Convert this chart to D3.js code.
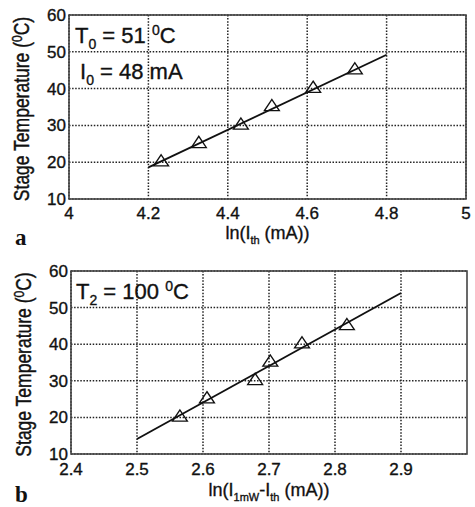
<!DOCTYPE html>
<meta charset="utf-8" />
<html>
<head>
<script src="https://d3js.org/d3.v7.min.js"></script>
<style>
  body { margin: 0; background: #fff; }
  text { font-family: "Liberation Sans", Arial, sans-serif; fill: #111; stroke: #111; stroke-width: 0.35; }
</style>
</head>
<body>
<script>
// panel a: ln(Ith) vs stage temperature
var lnIth = [4.232, 4.327, 4.433, 4.511, 4.615, 4.72];
var tempA = [20, 25, 30, 35, 40, 45];
var fitA = [[4.2, 18.6], [4.8, 49.2]];
var xTicksA = [4, 4.2, 4.4, 4.6, 4.8, 5];

// panel b: ln(I1mW - Ith) vs stage temperature
var lnSlope = [2.565, 2.606, 2.679, 2.702, 2.75, 2.818];
var tempB = [20, 25, 30, 35, 40, 45];
var fitB = [[2.5, 14.1], [2.9, 54]];
var xTicksB = [2.4, 2.5, 2.6, 2.7, 2.8, 2.9];

var yTicks = [10, 20, 30, 40, 50, 60];

var svg = d3.select('body').append('svg')
    .attr('width', 475)
    .attr('height', 507);

function drawPanel(p) {
  var x = d3.scaleLinear().domain(p.xDomain).range([p.left, p.right]);
  var y = d3.scaleLinear().domain([10, 60]).range([p.bottom, p.top]);
  var g = svg.append('g');

  // dotted grid
  g.selectAll('.gx').data(p.xTicks).enter().append('line')
      .attr('x1', function(d) { return x(d); })
      .attr('x2', function(d) { return x(d); })
      .attr('y1', p.top).attr('y2', p.bottom)
      .attr('stroke', '#222').attr('stroke-width', 1.5)
      .attr('stroke-dasharray', '1.5,1.6');
  g.selectAll('.gy').data(yTicks).enter().append('line')
      .attr('y1', function(d) { return y(d); })
      .attr('y2', function(d) { return y(d); })
      .attr('x1', p.left).attr('x2', p.right)
      .attr('stroke', '#222').attr('stroke-width', 1.5)
      .attr('stroke-dasharray', '1.5,1.6');

  // box
  g.append('rect')
      .attr('x', p.left).attr('y', p.top)
      .attr('width', p.right - p.left).attr('height', p.bottom - p.top)
      .attr('fill', 'none').attr('stroke', '#444').attr('stroke-width', 1.6);

  // tick labels
  g.selectAll('.ty').data(yTicks).enter().append('text')
      .attr('x', p.left - 3)
      .attr('y', function(d) { return y(d) + 6; })
      .attr('text-anchor', 'end')
      .style('font-size', '17px')
      .text(function(d) { return d; });
  g.selectAll('.tx').data(p.xTicks).enter().append('text')
      .attr('x', function(d) { return x(d); })
      .attr('y', p.bottom + p.tickDy)
      .attr('text-anchor', 'middle')
      .style('font-size', '17px')
      .text(function(d) { return d; });

  // fit line
  g.append('path')
      .attr('d', d3.line().x(function(d) { return x(d[0]); }).y(function(d) { return y(d[1]); })(p.fit))
      .attr('stroke', '#111').attr('stroke-width', 1.9).attr('fill', 'none');

  // triangles
  var tri = d3.symbol().type(d3.symbolTriangle).size(80);
  g.selectAll('.pt').data(p.xs).enter().append('path')
      .attr('d', tri)
      .attr('transform', function(d, i) { return 'translate(' + x(d) + ',' + y(p.ys[i]) + ') scale(1.1,0.95)'; })
      .attr('fill', 'none').attr('stroke', '#111').attr('stroke-width', 1.3);

  // y label
  var yl = g.append('text')
      .attr('transform', 'translate(' + (p.left - 40) + ',' + ((p.top + p.bottom) / 2 + 2) + ') rotate(-90) scale(1,1.25)')
      .attr('text-anchor', 'middle')
      .style('font-size', '17.5px');
  yl.append('tspan').text('Stage Temperature (');
  yl.append('tspan').attr('dy', -6).style('font-size', '12px').text('0');
  yl.append('tspan').attr('dy', 6).text('C)');

  // x label
  var xl = g.append('text')
      .attr('x', (p.left + p.right) / 2)
      .attr('y', p.bottom + p.labelDy)
      .attr('text-anchor', 'middle')
      .style('font-size', '18px');
  p.xLabel.forEach(function(part) {
    xl.append('tspan')
        .attr('dy', part.sub ? 5 : (part.after ? -5 : 0))
        .style('font-size', part.sub ? '11px' : '18px')
        .text(part.t);
  });

  // panel letter
  svg.append('text')
      .attr('x', 15).attr('y', p.letterY)
      .style('font-family', '"Liberation Serif", "DejaVu Serif", serif')
      .style('font-weight', 'bold')
      .style('font-size', '23px')
      .style('stroke-width', 0)
      .text(p.letter);

  // annotations
  p.notes.forEach(function(n) {
    var t = g.append('text')
        .attr('x', n.x).attr('y', n.y)
        .style('font-size', '22px');
    t.append('tspan').text(n.a);
    t.append('tspan').attr('dy', 6).style('font-size', '14px').text(n.sub);
    t.append('tspan').attr('dy', -6).text(n.b);
    if (n.deg) {
      t.append('tspan').attr('dy', -8).style('font-size', '14px').text('0');
      t.append('tspan').attr('dy', 8).text('C');
    }
  });
}

drawPanel({
  xDomain: [4, 5], xTicks: xTicksA,
  left: 69, right: 466, top: 15, bottom: 199,
  tickDy: 20, labelDy: 40, letterY: 245,
  xs: lnIth, ys: tempA, fit: fitA, letter: 'a',
  xLabel: [{t: 'ln(I'}, {t: 'th', sub: true}, {t: ' (mA))', after: true}],
  notes: [
    {x: 75, y: 43, a: 'T', sub: '0', b: ' = 51 ', deg: true},
    {x: 80, y: 79, a: 'I', sub: '0', b: ' = 48 mA'}
  ]
});

drawPanel({
  xDomain: [2.4, 3.0], xTicks: xTicksB,
  left: 71, right: 467, top: 271, bottom: 454,
  tickDy: 21, labelDy: 42, letterY: 502,
  xs: lnSlope, ys: tempB, fit: fitB, letter: 'b',
  xLabel: [{t: 'ln(I'}, {t: '1mW', sub: true}, {t: '-I', after: true},
           {t: 'th', sub: true}, {t: ' (mA))', after: true}],
  notes: [
    {x: 76, y: 299, a: 'T', sub: '2', b: ' = 100 ', deg: true}
  ]
});
</script>
</body>
</html>
